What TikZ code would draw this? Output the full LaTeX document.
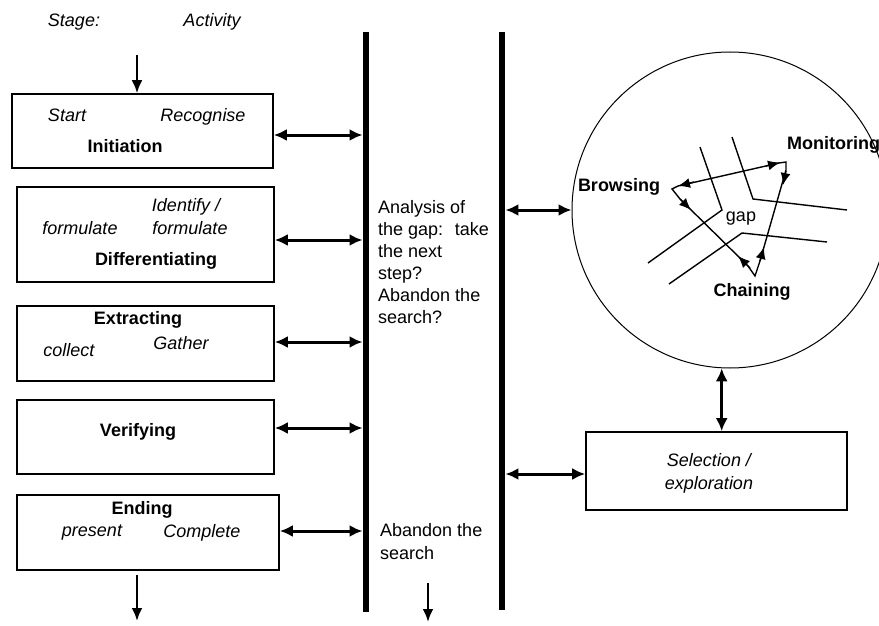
\documentclass[tikz,border=0pt]{standalone}
\usepackage{fontspec}
\setmainfont{Liberation Sans}
\usetikzlibrary{arrows.meta}
\begin{document}
\begin{tikzpicture}[x=1pt,y=-1pt,
  txt/.style={font=\fontsize{18}{22}\selectfont, inner sep=0pt, anchor=base},
  it/.style={txt, font=\fontsize{18}{22}\selectfont\itshape},
  bf/.style={txt, font=\fontsize{18}{22}\selectfont\bfseries},
  box/.style={draw, line width=1.6pt, inner sep=0pt},
  bar/.style={fill=black, inner sep=0pt, minimum width=6.5pt},
  dbl/.style={line width=3pt, {Latex[length=13pt,width=12pt]}-{Latex[length=13pt,width=12pt]}},
  down/.style={line width=2.4pt, -{Latex[length=13pt,width=11pt]}},
  thinln/.style={line width=1.4pt},
  tipmark/.style={line width=1.4pt, -{Latex[length=12pt,width=10pt]}}]
\useasboundingbox (0,0) rectangle (879,626);

% headings
\node[it] (stage) at (74,26.5) {Stage:};
\node[it] (activity) at (212,26.5) {Activity};

% stage boxes
\node[box, minimum width=261pt, minimum height=74pt] (init) at (142.5,131) {};
\node[box, minimum width=257pt, minimum height=95pt] (diff) at (145.5,234.5) {};
\node[box, minimum width=257pt, minimum height=75pt] (extr) at (145.5,343.5) {};
\node[box, minimum width=257pt, minimum height=74pt] (veri) at (145.5,437) {};
\node[box, minimum width=262pt, minimum height=75pt] (endg) at (148,532.5) {};

\node[it] (start) at (67,121.5) {Start};
\node[it] (recog) at (203,121.5) {Recognise};
\node[bf] (initt) at (125,152.5) {Initiation};

\node[it] (form1) at (80,234.5) {formulate};
\node[it] (ident) at (186,211.5) {Identify /};
\node[it] (form2) at (190,234.5) {formulate};
\node[bf] (difft) at (156,265.5) {Differentiating};

\node[bf] (extrt) at (138,324.5) {Extracting};
\node[it] (collect) at (69,356.5) {collect};
\node[it] (gather) at (181,349.5) {Gather};

\node[bf] (verit) at (138,436.5) {Verifying};

\node[bf] (endt) at (142,514.5) {Ending};
\node[it] (present) at (92,536.5) {present};
\node[it] (complete) at (202,537.5) {Complete};

% bars
\node[bar, minimum height=580pt] (bar1) at (366,322) {};
\node[bar, minimum height=578pt] (bar2) at (502,321) {};

% vertical arrows
\coordinate (s0) at (137,55);
\draw[down] (s0) -- (s0 |- init.north);
\coordinate (e0) at (137,575);
\coordinate (e1) at (137,621);
\draw[down] (e0) -- (e1);
\coordinate (m0) at (428,583);
\coordinate (m1) at (428,622);
\draw[down] (m0) -- (m1);

% double arrows stage boxes <-> bar1
\coordinate (a1) at (0,135);
\coordinate (a2) at (0,240);
\coordinate (a3) at (0,342);
\coordinate (a4) at (0,428);
\coordinate (a5) at (0,531);
\draw[dbl] (init.east |- a1) -- (bar1.west |- a1);
\draw[dbl] (diff.east |- a2) -- (bar1.west |- a2);
\draw[dbl] (extr.east |- a3) -- (bar1.west |- a3);
\draw[dbl] (veri.east |- a4) -- (bar1.west |- a4);
\draw[dbl] (endg.east |- a5) -- (bar1.west |- a5);

% middle texts
\node[txt, anchor=north west, align=left, font=\fontsize{18}{22}\selectfont] (analysis) at (378,200.5)
  {Analysis of\\the gap:~ take\\the next\\step?\\Abandon the\\search?};
\node[txt, anchor=north west, align=left, font=\fontsize{18}{23}\selectfont] (abandon) at (380,523.5)
  {Abandon the\\search};

% circle
\node[circle, draw, line width=1pt, minimum size=316pt, inner sep=0pt] (circ) at (730,210) {};
\draw[dbl] (bar2.east |- circ.west) -- (circ.west);

% selection box
\node[box, minimum width=261pt, minimum height=78pt] (sel) at (716.5,471) {};
\node[it, anchor=north, align=center, font=\fontsize{18}{23}\selectfont\itshape] (selt) at (709,453.5) {Selection /\\exploration};
\coordinate (a6) at (0,474);
\draw[dbl] (bar2.east |- a6) -- (sel.west |- a6);
\draw[dbl] (circ.267) -- (circ.267 |- sel.north);

% inner circle drawing
\draw[thinln] (700,147) -- (722,210) -- (648,263);
\draw[thinln] (732,137) -- (753,199) -- (847,210);
\draw[thinln] (669,284) -- (742,233) -- (827,242);

\draw[thinln, line join=miter] (678,186) -- (672,189) -- (680,199) -- (748,266) -- (755,276)
  -- (760,261) -- (786,170) -- (786,162) -- (779,163) -- cycle;
\draw[tipmark] (694,182) -- (678,186);
\draw[tipmark] (680,199) -- (691,210);
\draw[tipmark] (766,166) -- (780,162.5);
\draw[tipmark] (786,171) -- (783,185);
\draw[tipmark] (760,261) -- (764,247);
\draw[tipmark] (750,268) -- (738,256);

\node[bf] (browsing) at (619,191.5) {Browsing};
\node[bf, anchor=base west] (monitoring) at (787,149.5) {Monitoring};
\node[txt] (gap) at (741,221) {gap};
\node[bf] (chaining) at (752,296.5) {Chaining};
\end{tikzpicture}
\end{document}
